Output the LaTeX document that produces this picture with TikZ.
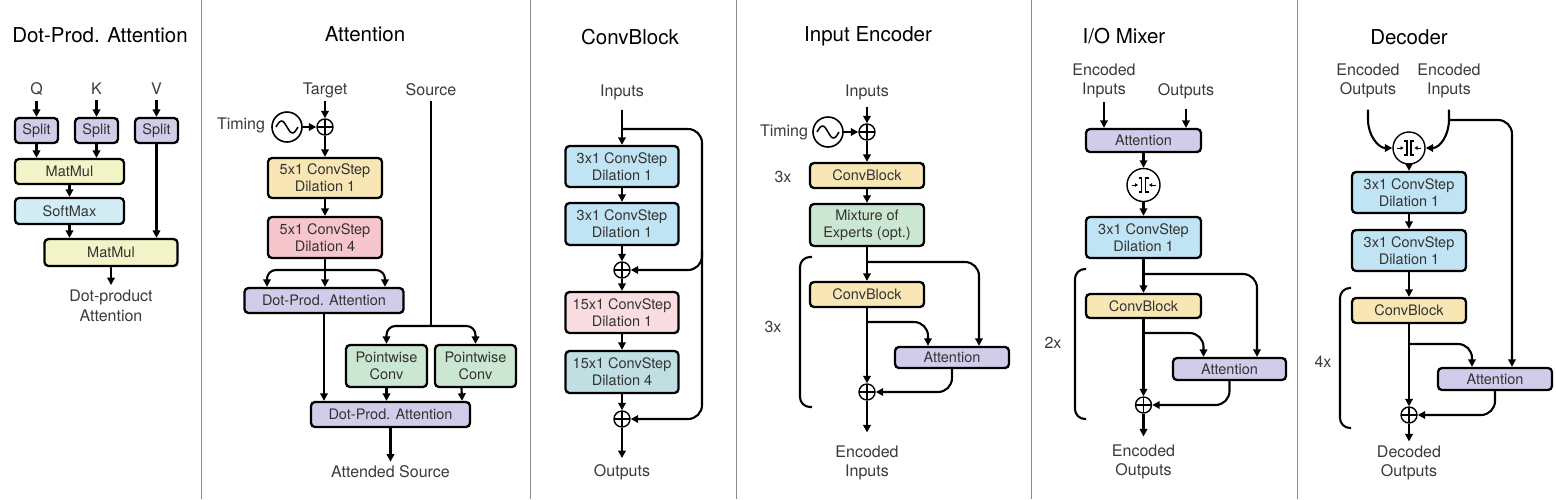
\documentclass[tikz,border=0pt]{standalone}
\usepackage{fontspec}
\setmainfont{TeX Gyre Heros}
\usetikzlibrary{arrows.meta,calc}
\definecolor{cpurp}{HTML}{D0CDEA}
\definecolor{cmatm}{HTML}{F2F4C8}
\definecolor{csoft}{HTML}{D2EDF6}
\definecolor{cyel}{HTML}{F8E6B4}
\definecolor{cpink}{HTML}{F6C6CC}
\definecolor{cgreen}{HTML}{CBE6D1}
\definecolor{cblue}{HTML}{C0E4F4}
\definecolor{clpink}{HTML}{FADDE1}
\definecolor{cteal}{HTML}{BFDFE2}
\definecolor{txtc}{HTML}{333333}
\definecolor{lblc}{HTML}{3A3A3A}
\definecolor{sepc}{HTML}{8A8A8A}
\begin{document}
\begin{tikzpicture}[x=1pt,y=-1pt,
  box/.style={draw=black, line width=2.3pt, rounded corners=4pt, align=center, inner sep=0pt, text=txtc, font=\fontsize{14.5}{17}\selectfont},
  lbl/.style={text=lblc, align=center, font=\fontsize{16}{19.5}\selectfont, inner sep=1pt},
  ttl/.style={text=black, font=\fontsize{20.5}{24}\selectfont, inner sep=0pt},
  arr/.style={line width=2.1pt, -{Triangle[length=7.5pt,width=7.5pt]}},
  ln/.style={line width=2.1pt},
  brk/.style={line width=2.1pt, rounded corners=10pt},
  sepl/.style={draw=sepc, line width=1pt},
  plusc/.style={circle, draw, line width=1.4pt, minimum size=16pt, inner sep=0pt, fill=white,
    path picture={\draw[line width=1.2pt] (path picture bounding box.north) -- (path picture bounding box.south) (path picture bounding box.west) -- (path picture bounding box.east);}},
  sinec/.style={circle, draw, line width=1.6pt, minimum size=30pt, inner sep=0pt,
    path picture={\coordinate (cc) at (path picture bounding box.center);
      \draw[line width=1.5pt] ($(cc)+(-11,0)$) sin ($(cc)+(-5.5,-6)$) cos (cc) sin ($(cc)+(5.5,6)$) cos ($(cc)+(11,0)$);}},
  catc/.style={circle, draw, line width=1.4pt, minimum size=33pt, inner sep=0pt, fill=white,
    path picture={\coordinate (cc) at (path picture bounding box.center);
      \draw[line width=1.1pt] ($(cc)+(-5,-7)$) -- ($(cc)+(-2,-7)$) -- ($(cc)+(-2,7)$) -- ($(cc)+(-5,7)$);
      \draw[line width=1.1pt] ($(cc)+(5,-7)$) -- ($(cc)+(2,-7)$) -- ($(cc)+(2,7)$) -- ($(cc)+(5,7)$);
      \draw[line width=0.9pt, -{Triangle[length=3pt,width=3.5pt]}] ($(cc)+(-12,0)$) -- ($(cc)+(-5.5,0)$);
      \draw[line width=0.9pt, -{Triangle[length=3pt,width=3.5pt]}] ($(cc)+(12,0)$) -- ($(cc)+(5.5,0)$);}}
]
\useasboundingbox (0,0) rectangle (1556,499);
\fill[white] (0,0) rectangle (1556,499);
% separators
\draw[sepl] (201,0) -- (201,499);
\draw[sepl] (530,0) -- (530,499);
\draw[sepl] (736,0) -- (736,499);
\draw[sepl] (1031,0) -- (1031,499);
\draw[sepl] (1297,0) -- (1297,499);

% ---------- Panel 1: Dot-Prod. Attention
\node[ttl] (t1) at (100,35) {Dot-Prod. Attention};
\node[lbl] (q) at (36.5,89) {Q};
\node[lbl] (k) at (96.5,89) {K};
\node[lbl] (v) at (156.5,89) {V};
\node[box, fill=cpurp, minimum width=43pt, minimum height=25pt] (s1) at (36.5,130.5) {Split};
\node[box, fill=cpurp, minimum width=43pt, minimum height=25pt] (s2) at (96.5,130.5) {Split};
\node[box, fill=cpurp, minimum width=43pt, minimum height=25pt] (s3) at (156.5,130.5) {Split};
\node[box, fill=cmatm, minimum width=109pt, minimum height=25pt] (mm1) at (69.5,171.5) {MatMul};
\node[box, fill=csoft, minimum width=109pt, minimum height=26pt] (sm) at (69.5,211) {SoftMax};
\node[box, fill=cmatm, minimum width=133pt, minimum height=27pt] (mm2) at (111,252.5) {MatMul};
\node[lbl] (dpo) at (111,306) {Dot-product\\Attention};
\draw[arr, shorten <=4pt] (q) -- (s1);
\draw[arr, shorten <=4pt] (k) -- (s2);
\draw[arr, shorten <=4pt] (v) -- (s3);
\draw[arr] (s1) -- (s1 |- mm1.north);
\draw[arr] (s2) -- (s2 |- mm1.north);
\draw[arr] (mm1) -- (sm);
\draw[arr] (sm.south) -- (sm.south |- mm2.north);
\draw[arr] (s3) -- (s3 |- mm2.north);
\draw[arr, shorten >=4pt] (mm2) -- (dpo);

% ---------- Panel 2: Attention
\node[ttl] (t2) at (365,34) {Attention};
\node[lbl] (tgt) at (325,90) {Target};
\node[lbl] (src) at (431,90) {Source};
\node[lbl] (tim1) at (241,125) {Timing};
\node[sinec] (sin1) at (287,127) {};
\node[plusc] (pl1) at (325,127) {};
\node[box, fill=cyel, minimum width=114pt, minimum height=40pt] (c5a) at (325,178) {5x1 ConvStep\\Dilation 1};
\node[box, fill=cpink, minimum width=114pt, minimum height=41pt] (c5b) at (325,237.5) {5x1 ConvStep\\Dilation 4};
\node[box, fill=cpurp, minimum width=159pt, minimum height=25pt] (dpa1) at (324,300.5) {Dot-Prod. Attention};
\node[box, fill=cgreen, minimum width=81pt, minimum height=42pt] (pw1) at (386.5,366) {Pointwise\\Conv};
\node[box, fill=cgreen, minimum width=81pt, minimum height=42pt] (pw2) at (475.5,366) {Pointwise\\Conv};
\node[box, fill=cpurp, minimum width=159pt, minimum height=25pt] (dpa2) at (390.5,414.5) {Dot-Prod. Attention};
\node[lbl] (asrc) at (390.5,472) {Attended Source};
\draw[arr, shorten <=2pt] (tgt) -- (pl1);
\draw[arr] (sin1) -- (pl1);
\draw[arr] (pl1) -- (c5a);
\draw[arr] (c5a) -- (c5b);
\coordinate (fk1) at (325,270);
\draw[ln] (c5b) -- (fk1);
\draw[arr] (fk1) -- (fk1 |- dpa1.north);
\draw[arr, rounded corners=9pt] (fk1) -| ($(dpa1.north)+(-57,0)$);
\draw[arr, rounded corners=9pt] (fk1) -| ($(dpa1.north)+(61,0)$);
\coordinate (fk2) at (431,326);
\draw[ln, shorten <=4pt] (src) -- (fk2);
\draw[arr, rounded corners=9pt] (fk2) -| (pw1.north);
\draw[arr, rounded corners=9pt] (fk2) -| (pw2.north);
\draw[arr] (dpa1.south) -- (dpa1.south |- dpa2.north);
\draw[arr] (pw1) -- (pw1 |- dpa2.north);
\draw[arr] ($(pw2.south)+(-14,0)$) -- ($(dpa2.north east)+(-9,0)$);
\draw[arr, shorten >=3pt] (dpa2) -- (asrc);

% ---------- Panel 3: ConvBlock
\node[ttl] (t3) at (630,37) {ConvBlock};
\node[lbl] (cin) at (622,92) {Inputs};
\node[box, fill=cblue, minimum width=113pt, minimum height=41pt] (b1) at (622,166.5) {3x1 ConvStep\\Dilation 1};
\node[box, fill=cblue, minimum width=113pt, minimum height=42pt] (b2) at (622,224) {3x1 ConvStep\\Dilation 1};
\node[plusc] (p1) at (622,270) {};
\node[box, fill=clpink, minimum width=113pt, minimum height=41pt] (b3) at (622,312.5) {15x1 ConvStep\\Dilation 1};
\node[box, fill=cteal, minimum width=113pt, minimum height=42pt] (b4) at (622,372) {15x1 ConvStep\\Dilation 4};
\node[plusc] (p2) at (622,419) {};
\node[lbl] (cout) at (622,472) {Outputs};
\coordinate (cbs) at (622,129);
\coordinate (cbtr) at (702,129);
\coordinate (cbbr) at (702,419);
\coordinate (cbm) at (702,250);
\draw[arr, shorten <=9pt] (cin) -- (b1);
\draw[arr, rounded corners=14pt] (cbs) -- (cbtr) -- (cbbr) -- (p2.east);
\draw[arr, rounded corners=14pt] (cbm) |- (p1.east);
\draw[arr] (b1) -- (b2);
\draw[arr] (b2) -- (p1);
\draw[arr] (p1) -- (b3);
\draw[arr] (b3) -- (b4);
\draw[arr] (b4) -- (p2);
\draw[arr, shorten >=5pt] (p2) -- (cout);

% ---------- Panel 4: Input Encoder
\node[ttl] (t4) at (868,36) {Input Encoder};
\node[lbl] (ein) at (867,92) {Inputs};
\node[plusc] (ep1) at (867,132) {};
\node[sinec] (esin) at (828,132) {};
\node[lbl] (etim) at (784,132) {Timing};
\node[box, fill=cyel, minimum width=114pt, minimum height=25pt] (ecb1) at (867,175.5) {ConvBlock};
\node[lbl] (e3a) at (783,177) {3x};
\node[box, fill=cgreen, minimum width=114pt, minimum height=42pt] (emoe) at (867,225) {Mixture of\\Experts (opt.)};
\node[box, fill=cyel, minimum width=114pt, minimum height=25pt] (ecb2) at (867,294.5) {ConvBlock};
\node[box, fill=cpurp, minimum width=114pt, minimum height=21pt] (eatt) at (952,357.5) {Attention};
\node[plusc] (ep2) at (867,392) {};
\node[lbl] (eout) at (867,463) {Encoded\\Inputs};
\node[lbl] (e3b) at (773,327) {3x};
\coordinate (eb1) at (867,262);
\coordinate (eb2) at (867,322);
\draw[arr, shorten <=6pt] (ein) -- (ep1);
\draw[arr] (esin) -- (ep1);
\draw[arr] (ep1) -- (ecb1);
\draw[arr] (ecb1) -- (emoe);
\draw[arr] (emoe) -- (ecb2);
\draw[arr] (ecb2) -- (ep2);
\draw[arr, rounded corners=14pt] (eb1) -| ($(eatt.north)+(27,0)$);
\draw[arr, rounded corners=14pt] (eb2) -| ($(eatt.north)+(-24,0)$);
\draw[arr, rounded corners=14pt] (eatt.south) |- (ep2.east);
\draw[arr, shorten >=12pt] (ep2) -- (eout);
\draw[brk] (812,257) -- (800,257) -- (800,407) -- (812,407);

% ---------- Panel 5: I/O Mixer
\node[ttl] (t5) at (1124,36) {I/O Mixer};
\node[lbl] (mein) at (1104,81) {Encoded\\Inputs};
\node[lbl] (mout) at (1186,91) {Outputs};
\node[box, fill=cpurp, minimum width=115pt, minimum height=23pt] (matt1) at (1143.5,140.5) {Attention};
\node[catc] (mcat) at (1143.5,185) {};
\node[box, fill=cblue, minimum width=115pt, minimum height=41pt] (mcs) at (1143.5,237.5) {3x1 ConvStep\\Dilation 1};
\node[box, fill=cyel, minimum width=115pt, minimum height=24pt] (mcb) at (1143.5,306) {ConvBlock};
\node[box, fill=cpurp, minimum width=113pt, minimum height=22pt] (matt2) at (1229.5,369) {Attention};
\node[plusc] (mp) at (1143.5,405) {};
\node[lbl] (mres) at (1143.5,462) {Encoded\\Outputs};
\node[lbl] (m2x) at (1053,343) {2x};
\coordinate (mb1) at (1143.5,274);
\coordinate (mb2) at (1143.5,333);
\draw[arr, shorten <=2pt] (mein.south) -- (mein.south |- matt1.north);
\draw[arr, shorten <=9pt] (mout.south) -- (mout.south |- matt1.north);
\draw[arr] (matt1) -- (mcat);
\draw[arr] (mcat) -- (mcs);
\draw[arr] (mcs) -- (mcb);
\draw[arr] (mcb) -- (mp);
\draw[arr, rounded corners=14pt] (mb1) -| ($(matt2.north)+(27.5,0)$);
\draw[arr, rounded corners=14pt] (mb2) -| ($(matt2.north)+(-26,0)$);
\draw[arr, rounded corners=14pt] (matt2.south) |- (mp.east);
\draw[arr, shorten >=7pt] (mp) -- (mres);
\draw[brk] (1086,269) -- (1075,269) -- (1075,419) -- (1086,419);

% ---------- Panel 6: Decoder
\node[ttl] (t6) at (1409,37) {Decoder};
\node[lbl] (dout) at (1368,81) {Encoded\\Outputs};
\node[lbl] (din) at (1449,81) {Encoded\\Inputs};
\node[catc, minimum size=32pt] (dcat) at (1409,148) {};
\node[box, fill=cblue, minimum width=114pt, minimum height=41pt] (db1) at (1409,192.5) {3x1 ConvStep\\Dilation 1};
\node[box, fill=cblue, minimum width=114pt, minimum height=41pt] (db2) at (1409,250.5) {3x1 ConvStep\\Dilation 1};
\node[box, fill=cyel, minimum width=114pt, minimum height=25pt] (dcb) at (1409,310.5) {ConvBlock};
\node[box, fill=cpurp, minimum width=114pt, minimum height=22pt] (datt) at (1495,379) {Attention};
\node[plusc] (dp) at (1409,415) {};
\node[lbl] (dres) at (1409,463) {Decoded\\Outputs};
\node[lbl] (d4x) at (1323,362) {4x};
\draw[arr] ($(dout.south)+(0,10)$) -- ++(0,10) .. controls +(0,16) and +(-14,0) .. (dcat.west);
\draw[arr] ($(din.south)+(0,10)$) -- ++(0,10) .. controls +(0,16) and +(14,0) .. (dcat.east);
\coordinate (dbr) at (1449,120);
\draw[arr, rounded corners=14pt] (dbr) -| ($(datt.north)+(17,0)$);
\draw[arr] (dcat) -- (db1);
\draw[arr] (db1) -- (db2);
\draw[arr] (db2) -- (dcb);
\draw[arr] (dcb) -- (dp);
\coordinate (dbm) at (1409,344);
\draw[arr, rounded corners=14pt] (dbm) -| ($(datt.north)+(-23,0)$);
\draw[arr, rounded corners=14pt] (datt.south) |- (dp.east);
\draw[arr, shorten >=3pt] (dp) -- (dres);
\draw[brk] (1351,288) -- (1340,288) -- (1340,428) -- (1351,428);
\end{tikzpicture}
\end{document}
